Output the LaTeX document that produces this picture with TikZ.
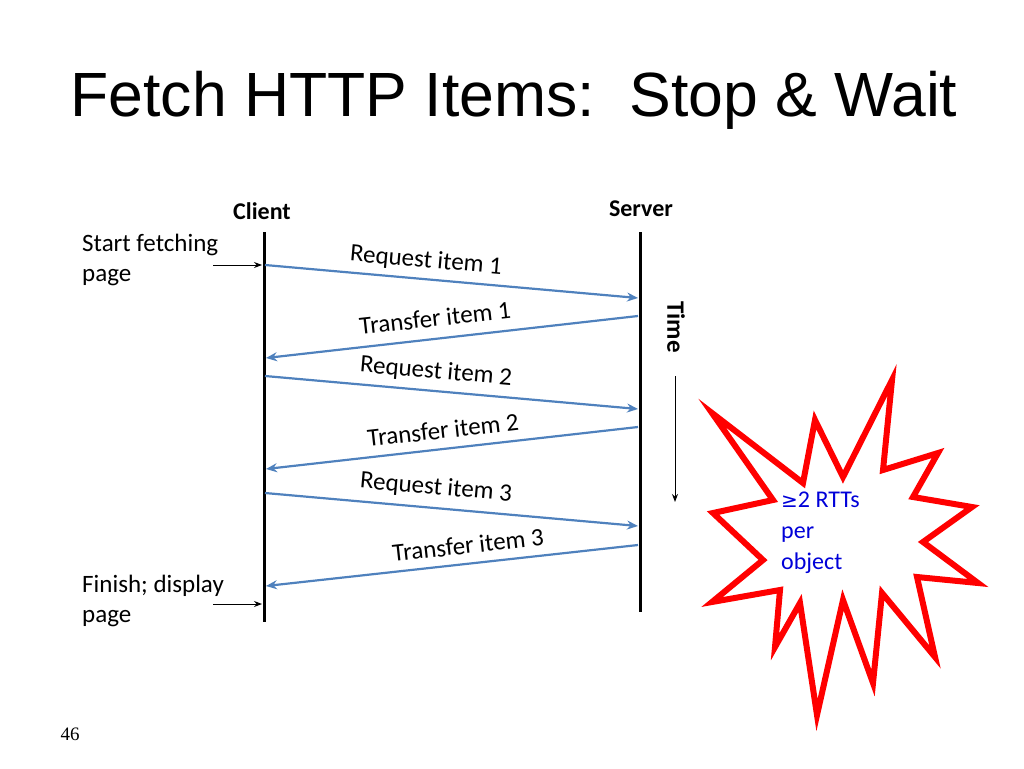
\documentclass[tikz,border=0pt]{standalone}
\usepackage{fontspec}
\setmainfont{Carlito}
\newfontfamily\arialf{Liberation Sans}
\newfontfamily\serf{Liberation Serif}
\usetikzlibrary{arrows.meta}
\definecolor{arr}{RGB}{79,129,189}
\begin{document}
\begin{tikzpicture}[x=1pt,y=-1pt,
  msg/.style={draw=arr,line width=2.2pt,-{Stealth[length=11pt,width=9pt]}},
  lab/.style={font=\fontsize{25}{30}\selectfont,inner sep=1pt},
  life/.style={line width=3pt}]
\useasboundingbox (0,0) rectangle (1024,768);
\node[font=\arialf\fontsize{62.5}{70}\selectfont,anchor=west] (title) at (67,100) {Fetch HTTP Items:\ \ Stop \& Wait};
\node[font=\bfseries\fontsize{24}{28}\selectfont] (cl) at (262,211) {Client};
\node[font=\bfseries\fontsize{24}{28}\selectfont] (sv) at (641,209) {Server};
\coordinate (c0) at (264,232); \coordinate (c1) at (264,622);
\coordinate (s0) at (640,232); \coordinate (s1) at (640,612);
\draw[life] (c0) -- (c1);
\draw[life] (s0) -- (s1);
\coordinate (a1) at (265,265); \coordinate (b1) at (638,298);
\coordinate (a2) at (638,316); \coordinate (b2) at (266,358);
\coordinate (a3) at (265,376); \coordinate (b3) at (638,409);
\coordinate (a4) at (638,427); \coordinate (b4) at (266,469);
\coordinate (a5) at (265,493); \coordinate (b5) at (638,526);
\coordinate (a6) at (638,545); \coordinate (b6) at (266,586);
\draw[msg] (a1) -- (b1);
\draw[msg] (a2) -- (b2);
\draw[msg] (a3) -- (b3);
\draw[msg] (a4) -- (b4);
\draw[msg] (a5) -- (b5);
\draw[msg] (a6) -- (b6);
\node[lab,rotate=-5] (l1) at (426,261) {Request item 1};
\node[lab,rotate=6.4] (l2) at (435,318) {Transfer item 1};
\node[lab,rotate=-5] (l3) at (436,372) {Request item 2};
\node[lab,rotate=6.4] (l4) at (443,430) {Transfer item 2};
\node[lab,rotate=-5] (l5) at (436,488) {Request item 3};
\node[lab,rotate=6.4] (l6) at (468,545) {Transfer item 3};
\node[font=\bfseries\fontsize{25}{28}\selectfont,rotate=-90] (time) at (676,327) {Time};
\coordinate (t0) at (675,376); \coordinate (t1) at (675,502);
\draw[-{Stealth[length=8pt,width=6pt]},line width=1pt] (t0) -- (t1);
\node[lab,anchor=north west,align=left] (start) at (81,233) {Start fetching\\page};
\node[lab,anchor=north west,align=left] (fin) at (81,574) {Finish; display\\page};
\coordinate (p0) at (213,265); \coordinate (p1) at (262,265);
\coordinate (q0) at (213,604); \coordinate (q1) at (262,604);
\draw[-{Stealth[length=8pt,width=6pt]},line width=1pt] (p0) -- (p1);
\draw[-{Stealth[length=8pt,width=6pt]},line width=1pt] (q0) -- (q1);
\draw[red,line width=6pt,line join=miter,miter limit=20,fill=white] (892,380) -- (883,470) -- (938,453) -- (913,497) -- (972,507) -- (923,542) -- (978,583) -- (917,577) -- (935,657) -- (882,593) -- (873,683) -- (843,600) -- (817,715) -- (800,603) -- (775,647) -- (780,590) -- (712,602) -- (763,560) -- (713,513) -- (773,500) -- (712,413) -- (803,483) -- (815,420) -- (843,477) -- cycle;
\node[lab,anchor=north west,align=left,text=blue!85!black,font=\fontsize{24}{31}\selectfont] (rtt) at (780,491) {{\fontspec{DejaVu Sans}\fontsize{20}{24}\selectfont ≥}2 RTTs\\per\\object};
\node[font=\serf\fontsize{19}{24}\selectfont] (pg) at (70,734) {46};
\end{tikzpicture}
\end{document}
